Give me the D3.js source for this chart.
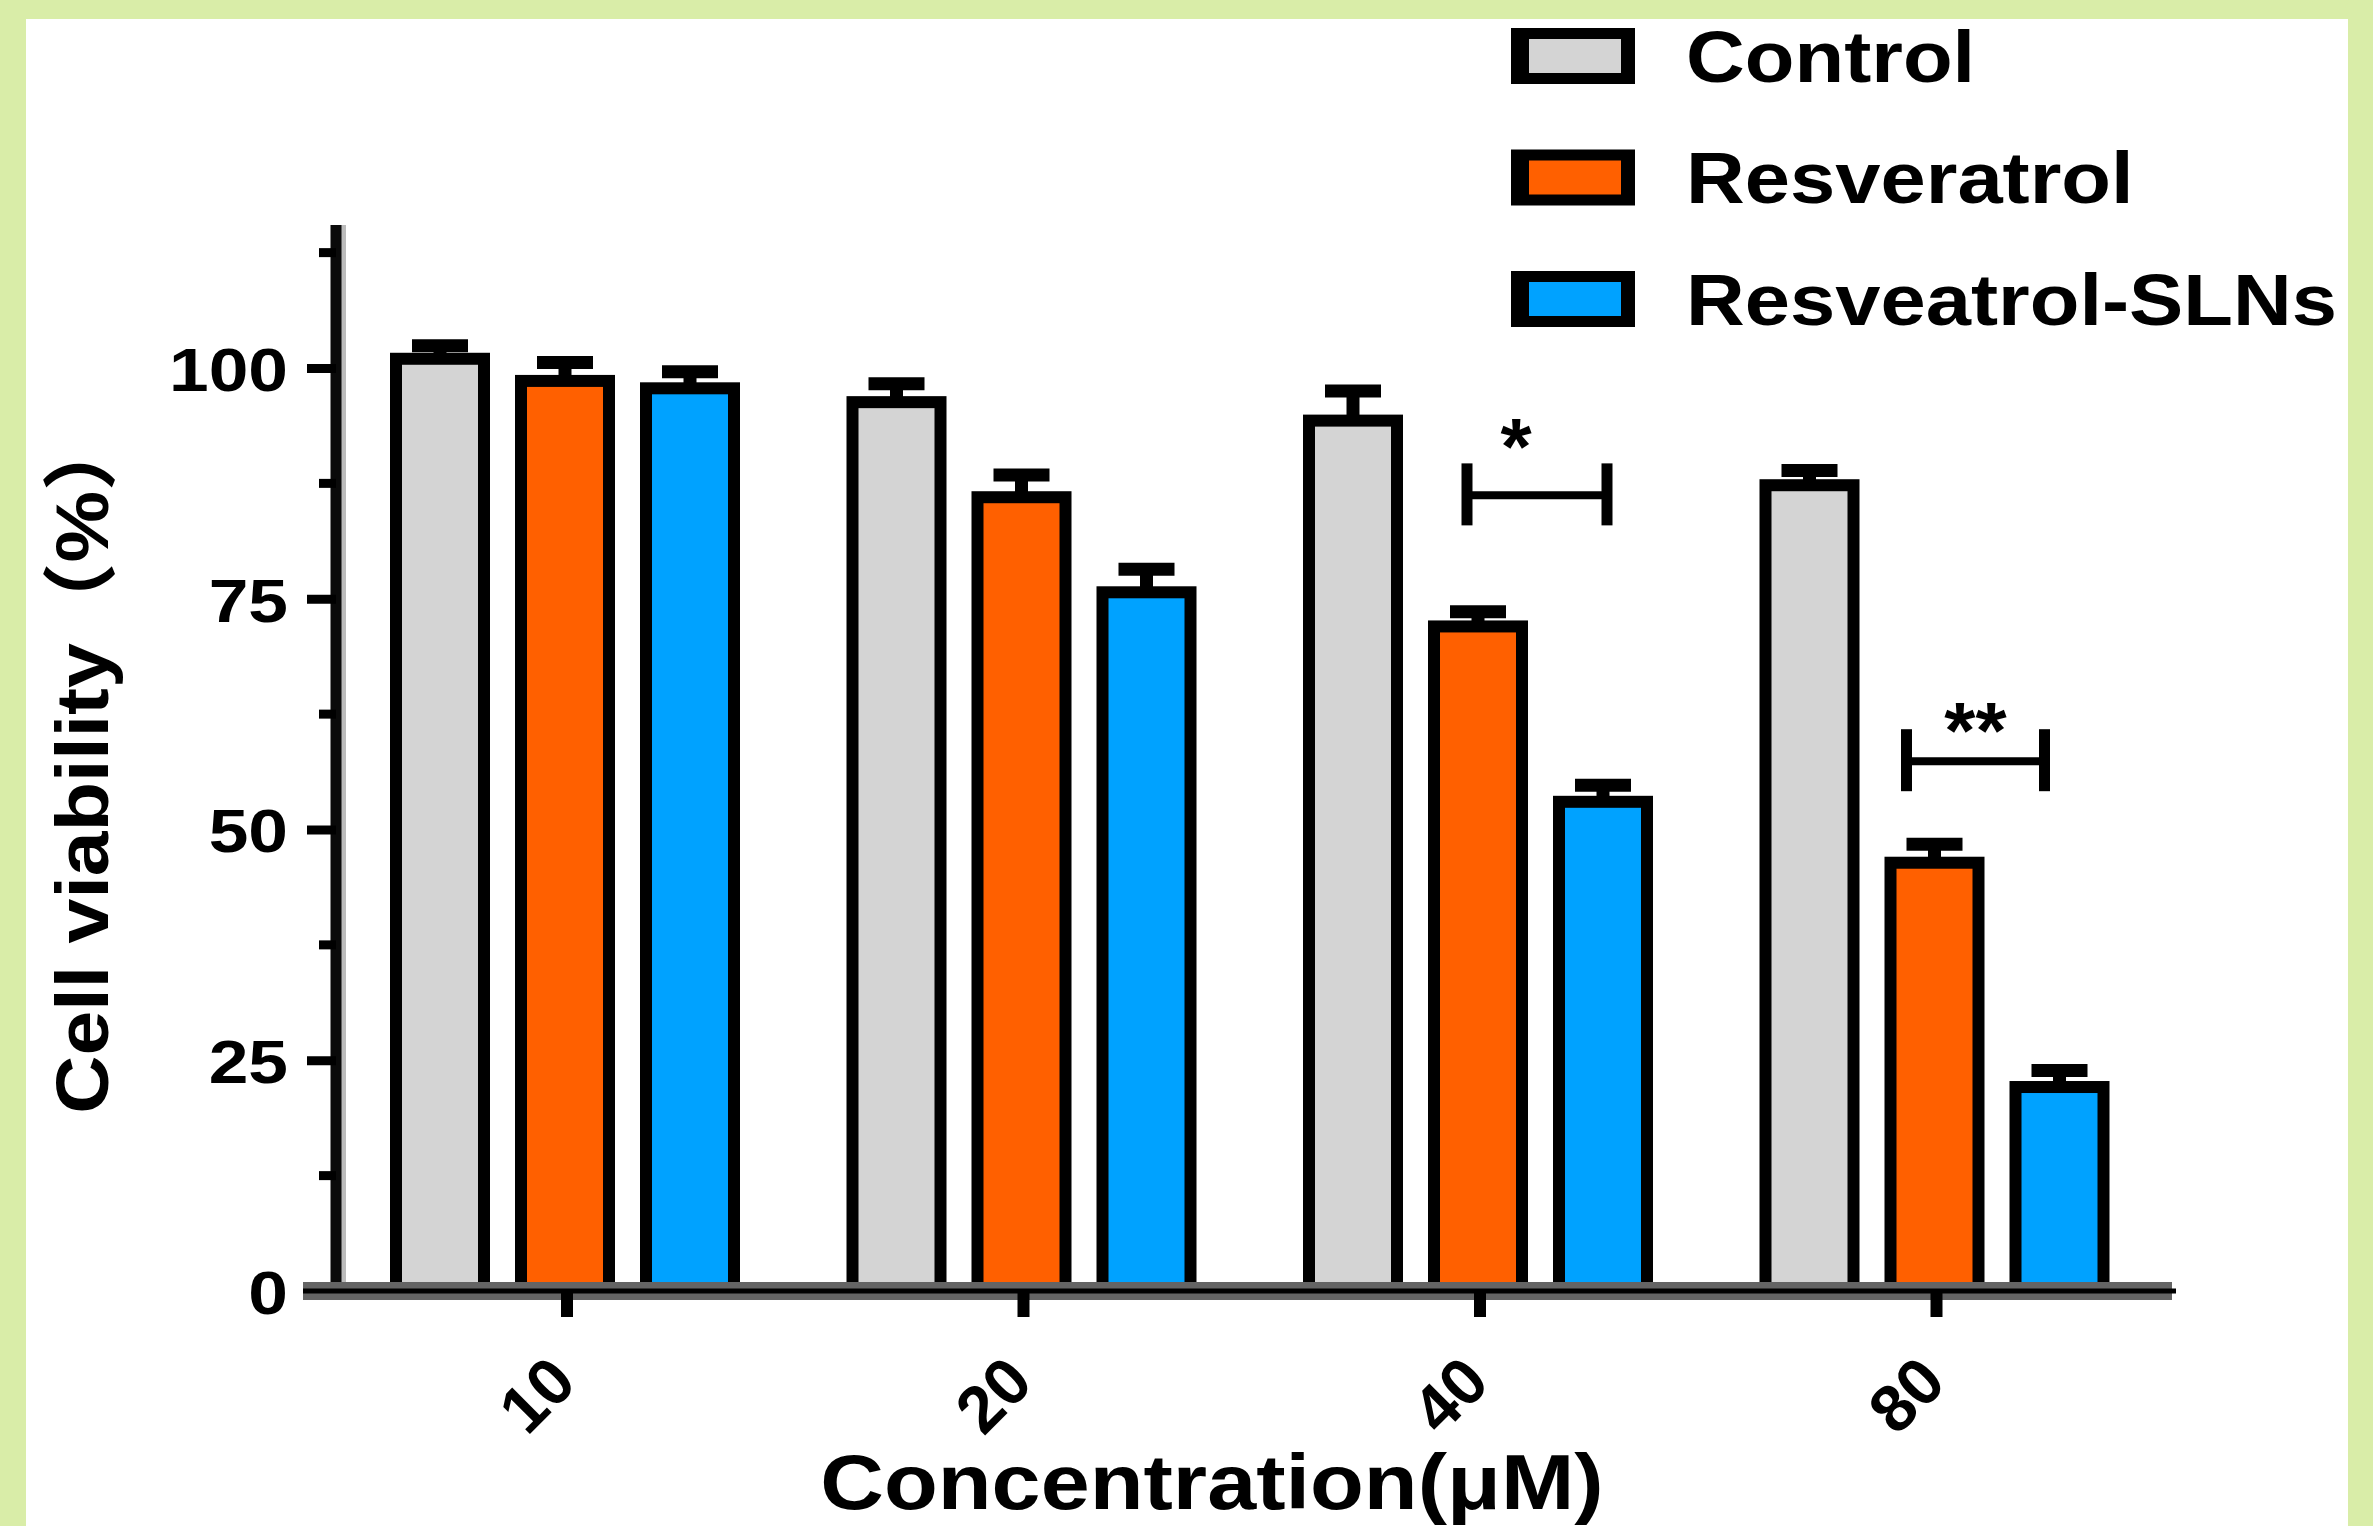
<!DOCTYPE html>
<html>
<head>
<meta charset="utf-8">
<script src="https://cdn.jsdelivr.net/npm/d3@7"></script>
<style>
  html, body { margin: 0; padding: 0; background: #d9eda8; }
  svg { display: block; }
  text { font-family: "Liberation Sans", Arial, "Noto Sans CJK SC", sans-serif; font-weight: bold; fill: #000; }
</style>
</head>
<body>
<svg id="chart" width="2373" height="1526"></svg>
<script>
// ---- data ----
const categories = ["10", "20", "40", "80"];
const seriesNames = ["Control", "Resveratrol", "Resveatrol-SLNs"];
const controlValues = [101.0, 96.3, 94.3, 87.3];
const resveratrolValues = [98.6, 86.0, 72.0, 46.4];
const slnValues = [97.8, 75.7, 53.0, 22.1];
const controlSD = [1.4, 2.0, 3.2, 1.6];
const resveratrolSD = [2.0, 2.4, 1.6, 2.0];
const slnSD = [1.8, 2.5, 1.8, 1.8];
const seriesColors = ["#d4d4d4", "#ff6000", "#00a2ff"];
const yTicks = [0, 25, 50, 75, 100];
const yMinorTicks = [12.5, 37.5, 62.5, 87.5, 112.5];
const sigGroups = ["40", "80"];
const sigLabels = ["*", "**"];
const sigValues = [86.2, 57.4];
const yTitle = "Cell viability（%）";
const xTitle = "Concentration(μM)";

// ---- build table ----
const valuesBySeries = [controlValues, resveratrolValues, slnValues];
const sdBySeries = [controlSD, resveratrolSD, slnSD];
const table = [];
categories.forEach((c, i) => {
  seriesNames.forEach((s, j) => {
    table.push({ cat: c, series: s, value: valuesBySeries[j][i], sd: sdBySeries[j][i], color: seriesColors[j] });
  });
});

const svg = d3.select("#chart");

// background panel
svg.append("rect").attr("x", 0).attr("y", 0).attr("width", 2373).attr("height", 1526).attr("fill", "#d9eda8");
svg.append("rect").attr("x", 26).attr("y", 19).attr("width", 2322).attr("height", 1507).attr("fill", "#ffffff");

// scales
const y = d3.scaleLinear().domain([0, 100]).range([1291, 368]);
const x0 = d3.scaleBand().domain(categories).range([336.75, 2162.75]).paddingInner(0).paddingOuter(0);
const x1 = d3.scaleBand().domain(seriesNames).range([-187.5, 187.5]).paddingInner(0.296).paddingOuter(0.148);
const groupCenter = c => x0(c) + x0.bandwidth() / 2;
const barCenter = (c, s) => groupCenter(c) + x1(s) + x1.bandwidth() / 2;

const g = svg.append("g");

// bars
g.selectAll("rect.bar").data(table).enter().append("rect")
  .attr("class", "bar")
  .attr("x", d => groupCenter(d.cat) + x1(d.series))
  .attr("y", d => y(d.value))
  .attr("width", x1.bandwidth())
  .attr("height", d => y(0) - y(d.value))
  .attr("fill", d => d.color)
  .attr("stroke", "#000")
  .attr("stroke-width", 12);

// error bars
const eb = g.selectAll("g.err").data(table).enter().append("g").attr("class", "err");
eb.append("line")
  .attr("x1", d => barCenter(d.cat, d.series)).attr("x2", d => barCenter(d.cat, d.series))
  .attr("y1", d => y(d.value)).attr("y2", d => y(d.value + d.sd))
  .attr("stroke", "#000").attr("stroke-width", 13);
eb.append("line")
  .attr("x1", d => barCenter(d.cat, d.series) - 28).attr("x2", d => barCenter(d.cat, d.series) + 28)
  .attr("y1", d => y(d.value + d.sd)).attr("y2", d => y(d.value + d.sd))
  .attr("stroke", "#000").attr("stroke-width", 13);

// y axis
const yAxisX = 336;
const yTop = 115.5;
g.append("line").attr("x1", yAxisX + 7).attr("x2", yAxisX + 7).attr("y1", y(yTop)).attr("y2", y(0))
  .attr("stroke", "#bbbbbb").attr("stroke-width", 6);
g.append("line").attr("x1", yAxisX).attr("x2", yAxisX).attr("y1", y(yTop)).attr("y2", y(0))
  .attr("stroke", "#0a0a0a").attr("stroke-width", 11);

const yAxis = d3.axisLeft(y).tickValues(yTicks).tickSize(0).tickPadding(0).tickFormat(d3.format("d"));
const yAxisG = g.append("g").attr("transform", `translate(${yAxisX},0)`).call(yAxis);
yAxisG.select(".domain").remove();
yAxisG.selectAll(".tick text").remove();
yAxisG.selectAll(".tick").append("line").attr("x1", -29).attr("x2", 0).attr("y1", 0).attr("y2", 0)
  .attr("stroke", "#000").attr("stroke-width", 9);
yAxisG.selectAll(".tick").append("g")
  .attr("transform", "translate(-48,0) scale(1.15,1)")
  .append("text")
  .attr("text-anchor", "end").attr("dy", "0.36em")
  .style("font-size", "62px")
  .text(d => d3.format("d")(d));
g.selectAll("line.minor").data(yMinorTicks).enter().append("line")
  .attr("class", "minor")
  .attr("x1", yAxisX - 17).attr("x2", yAxisX).attr("y1", d => y(d)).attr("y2", d => y(d))
  .attr("stroke", "#000").attr("stroke-width", 9);

// x axis
const xAxisY = y(0);
g.append("line").attr("x1", 303).attr("x2", 2172).attr("y1", xAxisY).attr("y2", xAxisY)
  .attr("stroke", "#646464").attr("stroke-width", 18);
g.append("line").attr("x1", 303).attr("x2", 2176).attr("y1", xAxisY).attr("y2", xAxisY)
  .attr("stroke", "#000").attr("stroke-width", 5);
const xAxis = d3.axisBottom(x0).tickSize(0).tickFormat(d => d);
const xAxisG = g.append("g").attr("transform", `translate(0,${xAxisY})`).call(xAxis);
xAxisG.select(".domain").remove();
xAxisG.selectAll(".tick text").remove();
xAxisG.selectAll(".tick").append("line").attr("x1", 2).attr("x2", 2).attr("y1", 0).attr("y2", 26)
  .attr("stroke", "#000").attr("stroke-width", 12);
xAxisG.selectAll(".tick").append("text")
  .attr("text-anchor", "end")
  .attr("transform", "translate(14,94) rotate(-45)")
  .style("font-size", "66px")
  .text(d => d);

// significance brackets
const bracketDx = [[-11, 4], [-28, -15]];
const starDx = [38, 0];
const starDy = [-21, -3];
sigGroups.forEach((grp, i) => {
  const xa = barCenter(grp, seriesNames[1]) + bracketDx[i][0];
  const xb = barCenter(grp, seriesNames[2]) + bracketDx[i][1];
  const yy = y(sigValues[i]);
  g.append("line").attr("x1", xa).attr("x2", xb).attr("y1", yy).attr("y2", yy)
    .attr("stroke", "#000").attr("stroke-width", 8);
  [xa, xb].forEach(xx => {
    g.append("line").attr("x1", xx).attr("x2", xx).attr("y1", yy - 32).attr("y2", yy + 30)
      .attr("stroke", "#000").attr("stroke-width", 11);
  });
  const cx = (i === 0) ? barCenter(grp, seriesNames[1]) + starDx[i] : (xa + xb) / 2;
  g.append("text").attr("x", cx).attr("y", yy + starDy[i])
    .attr("text-anchor", "middle").style("font-size", "80px")
    .text(sigLabels[i]);
});

// legend
const legend = svg.append("g");
seriesNames.forEach((s, i) => {
  const cy = 56 + i * 121.5;
  legend.append("rect").attr("x", 1511).attr("y", cy - 28).attr("width", 124).attr("height", 56).attr("fill", "#000");
  legend.append("rect").attr("x", 1529).attr("y", cy - 17).attr("width", 92).attr("height", 34).attr("fill", seriesColors[i]);
  legend.append("g").attr("transform", `translate(1686,${cy}) scale(1.13,1)`)
    .append("text").attr("dy", "0.36em").style("font-size", "72px").text(s);
});

// axis titles
svg.append("g").attr("transform", "translate(108,762) rotate(-90) scale(1.12,1.04)")
  .append("text").attr("text-anchor", "middle").style("font-size", "72px").text(yTitle);
svg.append("g").attr("transform", "translate(1212,1509) scale(1.13,1)")
  .append("text").attr("text-anchor", "middle").style("font-size", "78px").text(xTitle);
</script>
</body>
</html>
